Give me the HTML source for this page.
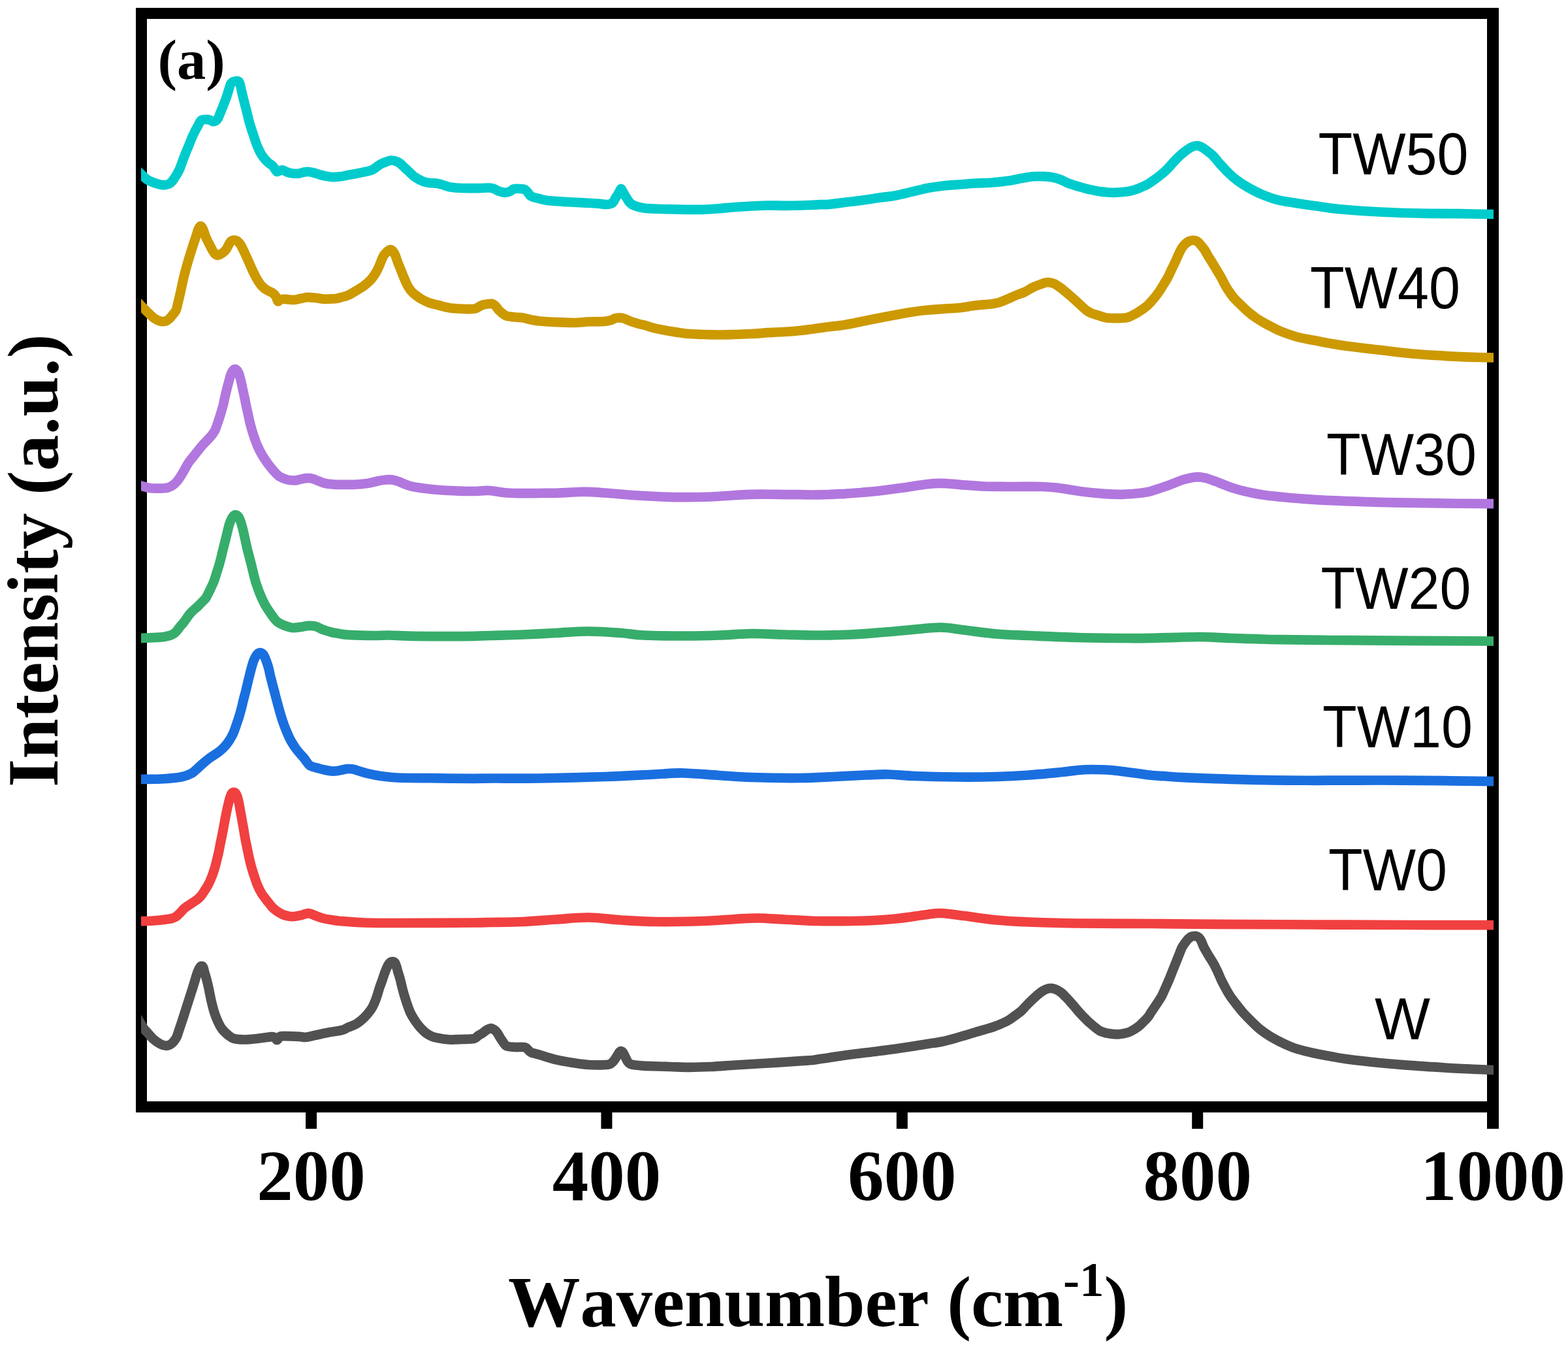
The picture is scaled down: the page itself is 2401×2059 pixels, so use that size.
<!DOCTYPE html>
<html lang="en">
<head>
<meta charset="utf-8">
<title>Raman spectra</title>
<style>
html,body{margin:0;padding:0;background:#fff;}
body{width:2401px;height:2059px;overflow:hidden;}
svg{display:block;}
.serif{font-family:"Liberation Serif","Times New Roman",serif;font-weight:bold;fill:#000;font-kerning:none;}
.sans{font-family:"Liberation Sans",Arial,sans-serif;fill:#000;font-kerning:none;}
.curve{fill:none;stroke-width:14.7;stroke-linejoin:round;stroke-linecap:butt;}
</style>
</head>
<body>
<svg width="2401" height="2059" viewBox="0 0 2401 2059" role="img" aria-label="Raman spectra of W, TW0, TW10, TW20, TW30, TW40 and TW50">
<rect x="0" y="0" width="2401" height="2059" fill="#fff"/>
<g id="axes" fill="#000">
<rect x="208" y="12" width="17" height="1691"/>
<rect x="2277" y="12" width="18" height="1716"/>
<rect x="208" y="12" width="2087" height="17"/>
<rect x="208" y="1686" width="2087" height="17"/>
<rect x="468.0" y="1700" width="17" height="28"/>
<rect x="920.4" y="1700" width="17" height="28"/>
<rect x="1372.8" y="1700" width="17" height="28"/>
<rect x="1825.2" y="1700" width="17" height="28"/>
</g>
<svg id="curves" x="216" y="0" width="2071" height="1720" viewBox="216 0 2071 1720" overflow="hidden">
<path class="curve" stroke="#515151" d="M204.2 1548.2C206.2 1551.5 213.5 1563.5 216.2 1568.0C219.0 1572.5 219.0 1572.9 220.5 1575.0C222.0 1577.1 223.0 1577.8 225.5 1580.5C228.0 1583.2 232.2 1588.3 235.5 1591.2C238.8 1594.2 242.4 1596.7 245.5 1598.2C248.6 1599.8 251.8 1600.6 254.2 1600.8C256.8 1600.9 258.6 1600.2 260.5 1599.2C262.4 1598.3 263.8 1597.0 265.5 1595.0C267.2 1593.0 269.0 1590.8 270.5 1587.5C272.0 1584.2 273.3 1579.2 274.8 1575.0C276.2 1570.8 277.6 1566.7 279.0 1562.5C280.4 1558.3 281.7 1554.2 283.0 1550.0C284.3 1545.8 285.7 1541.7 287.0 1537.5C288.3 1533.3 289.7 1529.2 291.0 1525.0C292.3 1520.8 293.7 1516.7 295.0 1512.5C296.3 1508.3 297.5 1504.2 298.8 1500.0C300.0 1495.8 301.5 1490.7 302.8 1487.5C304.0 1484.3 305.0 1482.5 306.0 1481.0C307.0 1479.5 308.0 1478.8 308.9 1478.8C309.8 1478.8 310.5 1479.2 311.2 1481.0C312.0 1482.8 312.6 1486.3 313.5 1489.5C314.4 1492.7 315.5 1496.2 316.5 1500.0C317.5 1503.8 318.6 1508.3 319.5 1512.5C320.4 1516.7 321.1 1520.8 322.0 1525.0C322.9 1529.2 323.7 1533.3 324.8 1537.5C325.8 1541.7 326.9 1545.8 328.2 1550.0C329.6 1554.2 331.1 1558.3 333.0 1562.5C334.9 1566.7 337.0 1571.3 339.8 1575.0C342.5 1578.7 346.2 1582.0 349.2 1584.5C352.3 1587.0 353.6 1588.6 358.0 1589.8C362.4 1590.9 369.2 1591.5 375.5 1591.5C381.8 1591.5 388.8 1590.5 395.5 1589.8C402.2 1589.0 411.3 1587.5 415.5 1587.2C419.7 1587.0 419.0 1587.2 420.5 1588.0C422.0 1588.8 423.0 1592.1 424.2 1592.0C425.5 1591.9 426.5 1588.5 428.0 1587.5C429.5 1586.5 428.0 1586.4 433.0 1586.2C438.0 1586.1 452.2 1586.5 458.0 1586.8C463.8 1587.0 463.8 1588.1 468.0 1587.8C472.2 1587.4 477.2 1586.0 483.0 1584.8C488.8 1583.5 496.3 1581.8 503.0 1580.5C509.7 1579.2 518.0 1578.5 523.0 1577.2C528.0 1576.0 529.2 1574.4 533.0 1572.8C536.8 1571.1 541.3 1570.0 545.5 1567.5C549.7 1565.0 554.2 1561.2 558.0 1557.5C561.8 1553.8 565.5 1549.0 568.0 1545.5C570.5 1542.0 571.5 1539.7 573.0 1536.2C574.5 1532.8 575.9 1529.0 577.2 1525.0C578.6 1521.0 579.6 1516.7 581.0 1512.5C582.4 1508.3 584.0 1504.2 585.5 1500.0C587.0 1495.8 588.3 1491.2 589.8 1487.5C591.2 1483.8 592.9 1479.9 594.2 1477.5C595.6 1475.1 596.8 1473.9 598.0 1473.0C599.2 1472.1 600.1 1471.9 601.2 1472.0C602.4 1472.1 603.8 1472.4 604.8 1473.8C605.8 1475.1 606.5 1477.7 607.2 1480.0C608.0 1482.3 608.3 1484.2 609.2 1487.5C610.2 1490.8 611.9 1495.8 613.0 1500.0C614.1 1504.2 614.9 1508.3 616.0 1512.5C617.1 1516.7 618.2 1520.8 619.5 1525.0C620.8 1529.2 622.0 1533.3 623.5 1537.5C625.0 1541.7 626.2 1545.8 628.2 1550.0C630.2 1554.2 632.8 1558.5 635.5 1562.5C638.2 1566.5 641.5 1570.7 644.2 1573.8C647.0 1576.8 649.0 1578.9 651.8 1581.0C654.5 1583.1 657.4 1584.9 660.5 1586.2C663.6 1587.6 665.9 1588.1 670.5 1589.0C675.1 1589.9 681.8 1591.2 688.0 1591.5C694.2 1591.8 701.7 1591.3 708.0 1591.0C714.3 1590.7 722.0 1590.7 726.0 1589.8C730.0 1588.8 730.2 1586.8 732.2 1585.5C734.3 1584.2 736.4 1583.2 738.5 1581.8C740.6 1580.3 742.7 1578.2 744.8 1577.0C746.8 1575.8 749.1 1574.5 751.0 1574.2C752.9 1574.0 754.3 1574.7 756.0 1575.8C757.7 1576.8 759.3 1578.3 761.0 1580.5C762.7 1582.7 764.3 1586.1 766.0 1588.8C767.7 1591.4 769.3 1594.1 771.0 1596.2C772.7 1598.4 773.1 1600.4 776.0 1601.5C778.9 1602.6 783.9 1602.7 788.5 1603.0C793.1 1603.3 800.2 1602.6 803.5 1603.2C806.8 1603.9 806.8 1605.7 808.5 1607.0C810.2 1608.3 810.6 1610.0 813.5 1611.2C816.4 1612.5 819.8 1612.9 826.0 1614.8C832.2 1616.6 842.7 1620.2 851.0 1622.2C859.3 1624.2 867.7 1625.5 876.0 1626.8C884.3 1628.0 892.7 1629.4 901.0 1630.0C909.3 1630.6 920.5 1630.4 926.0 1630.2C931.5 1630.1 931.7 1630.0 934.0 1629.0C936.3 1628.0 937.9 1626.1 939.8 1624.0C941.6 1621.9 943.5 1618.5 945.0 1616.2C946.5 1614.0 947.5 1611.9 948.5 1610.8C949.5 1609.6 950.3 1609.1 951.2 1609.2C952.2 1609.4 953.2 1610.0 954.2 1611.5C955.3 1613.0 956.4 1615.8 957.5 1618.0C958.6 1620.2 959.6 1623.1 961.0 1625.0C962.4 1626.9 963.5 1628.3 966.0 1629.2C968.5 1630.2 972.2 1630.3 976.0 1630.8C979.8 1631.2 980.2 1631.4 988.5 1631.8C996.8 1632.1 1014.8 1632.7 1026.0 1633.0C1037.2 1633.3 1045.6 1633.8 1056.0 1633.8C1066.4 1633.8 1076.8 1633.5 1088.5 1633.0C1100.2 1632.5 1111.4 1631.4 1126.0 1630.5C1140.6 1629.6 1159.3 1628.5 1176.0 1627.5C1192.7 1626.5 1214.7 1625.0 1226.0 1624.2C1237.3 1623.5 1238.9 1623.5 1244.0 1623.0C1249.1 1622.5 1252.3 1621.6 1256.5 1621.0C1260.7 1620.4 1262.8 1620.2 1269.0 1619.2C1275.2 1618.3 1285.7 1616.7 1294.0 1615.5C1302.3 1614.3 1310.7 1613.3 1319.0 1612.2C1327.3 1611.2 1335.7 1610.3 1344.0 1609.2C1352.3 1608.2 1360.7 1607.2 1369.0 1606.0C1377.3 1604.8 1385.7 1603.5 1394.0 1602.2C1402.3 1601.0 1410.7 1599.6 1419.0 1598.2C1427.3 1596.9 1435.7 1596.0 1444.0 1594.2C1452.3 1592.5 1460.7 1589.9 1469.0 1587.5C1477.3 1585.1 1485.7 1582.5 1494.0 1580.0C1502.3 1577.5 1512.8 1574.8 1519.0 1572.8C1525.2 1570.8 1527.3 1569.8 1531.5 1568.0C1535.7 1566.2 1540.2 1564.2 1544.0 1562.0C1547.8 1559.8 1550.7 1557.4 1554.0 1555.0C1557.3 1552.6 1561.1 1550.1 1564.0 1547.5C1566.9 1544.9 1569.0 1542.1 1571.5 1539.5C1574.0 1536.9 1576.5 1534.4 1579.0 1532.0C1581.5 1529.6 1584.0 1527.2 1586.5 1525.0C1589.0 1522.8 1591.5 1520.5 1594.0 1518.8C1596.5 1517.0 1599.0 1515.5 1601.5 1514.5C1604.0 1513.5 1606.5 1512.8 1609.0 1512.8C1611.5 1512.8 1614.0 1513.5 1616.5 1514.5C1619.0 1515.5 1621.5 1516.9 1624.0 1518.8C1626.5 1520.6 1629.0 1523.2 1631.5 1525.8C1634.0 1528.2 1636.5 1531.0 1639.0 1533.8C1641.5 1536.5 1644.0 1539.6 1646.5 1542.5C1649.0 1545.4 1651.5 1548.5 1654.0 1551.2C1656.5 1554.0 1659.0 1556.5 1661.5 1559.0C1664.0 1561.5 1666.5 1564.0 1669.0 1566.2C1671.5 1568.5 1674.0 1570.5 1676.5 1572.5C1679.0 1574.5 1681.5 1576.6 1684.0 1578.0C1686.5 1579.4 1689.0 1580.0 1691.5 1580.8C1694.0 1581.5 1696.5 1581.8 1699.0 1582.2C1701.5 1582.7 1704.0 1583.1 1706.5 1583.2C1709.0 1583.4 1711.5 1583.5 1714.0 1583.2C1716.5 1583.0 1719.0 1582.5 1721.5 1582.0C1724.0 1581.5 1726.5 1581.0 1729.0 1580.0C1731.5 1579.0 1734.0 1577.5 1736.5 1576.0C1739.0 1574.5 1741.9 1572.4 1744.0 1570.8C1746.1 1569.1 1747.3 1567.8 1749.0 1566.2C1750.7 1564.7 1752.3 1563.0 1754.0 1561.2C1755.7 1559.5 1757.7 1557.3 1759.0 1555.5C1760.3 1553.7 1760.0 1553.5 1762.0 1550.5C1764.0 1547.5 1768.0 1541.8 1770.8 1537.5C1773.5 1533.2 1776.5 1529.2 1778.8 1525.0C1781.0 1520.8 1782.6 1516.7 1784.5 1512.5C1786.4 1508.3 1788.2 1504.2 1790.0 1500.0C1791.8 1495.8 1793.3 1491.7 1795.0 1487.5C1796.7 1483.3 1798.3 1479.2 1800.0 1475.0C1801.7 1470.8 1803.3 1466.7 1805.0 1462.5C1806.7 1458.3 1808.2 1453.8 1810.2 1450.0C1812.3 1446.2 1815.5 1442.0 1817.5 1439.5C1819.5 1437.0 1821.0 1435.8 1822.5 1434.8C1824.0 1433.7 1824.9 1433.5 1826.5 1433.2C1828.1 1433.0 1830.4 1432.7 1832.0 1433.1C1833.6 1433.5 1834.8 1434.2 1836.0 1435.5C1837.2 1436.8 1838.3 1438.3 1839.5 1440.8C1840.7 1443.2 1841.6 1446.4 1843.4 1450.0C1845.2 1453.6 1848.0 1458.3 1850.5 1462.5C1853.0 1466.7 1855.9 1470.8 1858.2 1475.0C1860.6 1479.2 1862.5 1483.3 1864.5 1487.5C1866.5 1491.7 1868.0 1495.8 1870.0 1500.0C1872.0 1504.2 1874.2 1508.3 1876.5 1512.5C1878.8 1516.7 1881.0 1520.8 1883.8 1525.0C1886.5 1529.2 1890.0 1533.3 1893.2 1537.5C1896.5 1541.7 1899.5 1545.8 1903.2 1550.0C1907.0 1554.2 1911.4 1558.7 1915.8 1563.0C1920.1 1567.3 1924.7 1571.9 1929.5 1575.8C1934.3 1579.6 1939.1 1582.9 1944.5 1586.2C1949.9 1589.6 1957.0 1593.2 1962.0 1595.8C1967.0 1598.3 1970.3 1599.8 1974.5 1601.5C1978.7 1603.2 1980.8 1604.2 1987.0 1606.0C1993.2 1607.8 2003.7 1610.4 2012.0 1612.2C2020.3 1614.1 2028.7 1615.5 2037.0 1617.0C2045.3 1618.5 2049.5 1619.6 2062.0 1621.2C2074.5 1622.9 2095.3 1625.3 2112.0 1627.0C2128.7 1628.7 2145.3 1630.0 2162.0 1631.2C2178.7 1632.5 2195.3 1633.5 2212.0 1634.5C2228.7 1635.5 2249.6 1636.4 2262.0 1637.0C2274.4 1637.6 2280.4 1637.8 2286.5 1638.0C2292.6 1638.2 2296.5 1638.4 2298.5 1638.5"/>
<path class="curve" stroke="#F14040" d="M204.2 1410.8C206.2 1410.7 210.6 1410.5 216.2 1410.2C221.9 1410.0 231.0 1409.8 238.0 1409.2C245.0 1408.7 253.4 1407.7 258.0 1407.0C262.6 1406.3 263.4 1405.8 265.5 1405.0C267.6 1404.2 268.6 1403.9 270.5 1402.5C272.4 1401.1 274.7 1398.6 276.8 1396.5C278.8 1394.4 279.9 1392.5 283.0 1390.0C286.1 1387.5 292.2 1383.8 295.5 1381.5C298.8 1379.2 300.9 1378.0 303.0 1376.2C305.1 1374.5 306.3 1373.3 308.0 1371.2C309.7 1369.2 311.2 1366.5 313.0 1363.8C314.8 1361.0 316.6 1358.5 318.5 1355.0C320.4 1351.5 322.6 1346.7 324.2 1342.5C325.9 1338.3 327.2 1334.2 328.5 1330.0C329.8 1325.8 330.7 1321.7 331.8 1317.5C332.8 1313.3 333.8 1309.2 334.8 1305.0C335.7 1300.8 336.4 1296.7 337.2 1292.5C338.1 1288.3 338.9 1284.2 339.8 1280.0C340.6 1275.8 341.5 1271.7 342.2 1267.5C343.0 1263.3 343.7 1259.2 344.5 1255.0C345.3 1250.8 346.1 1246.7 347.0 1242.5C347.9 1238.3 348.8 1233.8 349.8 1230.0C350.7 1226.2 351.6 1222.6 352.5 1220.0C353.4 1217.4 354.1 1215.7 355.0 1214.5C355.9 1213.3 357.0 1212.8 358.0 1212.8C359.0 1212.8 360.1 1213.3 361.0 1214.5C361.9 1215.7 362.7 1217.4 363.5 1220.0C364.3 1222.6 365.2 1226.2 366.0 1230.0C366.8 1233.8 367.5 1238.3 368.2 1242.5C369.0 1246.7 369.8 1250.8 370.5 1255.0C371.2 1259.2 372.0 1263.3 372.8 1267.5C373.5 1271.7 374.0 1275.8 374.8 1280.0C375.5 1284.2 376.4 1288.3 377.2 1292.5C378.1 1296.7 378.9 1300.8 379.8 1305.0C380.6 1309.2 381.5 1313.3 382.5 1317.5C383.5 1321.7 384.5 1325.8 385.8 1330.0C387.0 1334.2 388.3 1338.3 389.8 1342.5C391.2 1346.7 392.5 1350.8 394.2 1355.0C396.0 1359.2 397.9 1363.3 400.5 1367.5C403.1 1371.7 407.0 1376.5 409.8 1380.0C412.5 1383.5 414.5 1386.3 416.8 1388.8C419.0 1391.2 420.8 1392.6 423.5 1394.5C426.2 1396.4 429.8 1398.6 433.0 1400.0C436.2 1401.4 440.1 1402.2 443.0 1402.8C445.9 1403.2 447.6 1403.2 450.5 1403.0C453.4 1402.8 457.8 1401.9 460.5 1401.2C463.2 1400.6 464.9 1399.8 466.8 1399.2C468.6 1398.8 470.1 1398.2 471.8 1398.2C473.4 1398.2 474.9 1398.7 476.8 1399.2C478.6 1399.8 479.9 1400.6 483.0 1401.8C486.1 1402.9 491.3 1404.9 495.5 1406.0C499.7 1407.1 503.8 1407.6 508.0 1408.2C512.2 1408.9 512.2 1409.3 520.5 1410.0C528.8 1410.7 543.4 1412.0 558.0 1412.5C572.6 1413.0 580.0 1413.0 608.0 1413.0C636.0 1413.0 702.2 1412.7 726.0 1412.5C749.8 1412.3 738.5 1412.2 751.0 1412.0C763.5 1411.8 784.3 1411.8 801.0 1411.0C817.7 1410.2 834.3 1408.6 851.0 1407.5C867.7 1406.4 884.3 1404.3 901.0 1404.5C917.7 1404.7 933.5 1407.4 951.0 1408.5C968.5 1409.6 985.2 1410.8 1006.0 1411.0C1026.8 1411.2 1056.0 1410.7 1076.0 1410.0C1096.0 1409.3 1111.8 1407.8 1126.0 1407.0C1140.2 1406.2 1148.5 1405.4 1161.0 1405.5C1173.5 1405.6 1186.0 1406.8 1201.0 1407.5C1216.0 1408.2 1230.2 1409.7 1251.0 1410.0C1271.8 1410.3 1305.2 1410.2 1326.0 1409.5C1346.8 1408.8 1361.0 1407.5 1376.0 1406.0C1391.0 1404.5 1405.2 1401.8 1416.0 1400.5C1426.8 1399.2 1431.0 1397.8 1441.0 1398.0C1451.0 1398.2 1461.8 1400.2 1476.0 1402.0C1490.2 1403.8 1509.3 1406.9 1526.0 1408.5C1542.7 1410.1 1555.2 1410.7 1576.0 1411.5C1596.8 1412.3 1620.0 1413.1 1651.0 1413.5C1682.0 1413.9 1726.8 1413.8 1762.0 1414.0C1797.2 1414.2 1820.3 1414.5 1862.0 1414.8C1903.7 1415.0 1962.0 1415.3 2012.0 1415.5C2062.0 1415.7 2116.2 1415.9 2162.0 1416.0C2207.8 1416.1 2263.8 1416.2 2286.5 1416.2C2309.2 1416.3 2296.5 1416.3 2298.5 1416.3"/>
<path class="curve" stroke="#1A6FDF" d="M204.2 1193.2C206.2 1193.2 209.4 1193.1 216.2 1193.0C223.1 1192.9 236.5 1192.9 245.5 1192.5C254.5 1192.1 264.2 1191.2 270.5 1190.5C276.8 1189.8 279.9 1188.8 283.0 1188.0C286.1 1187.2 287.2 1186.7 289.2 1185.8C291.3 1184.8 293.4 1184.0 295.5 1182.5C297.6 1181.0 299.7 1178.9 301.8 1177.0C303.8 1175.1 304.9 1174.0 308.0 1171.2C311.1 1168.5 316.3 1163.9 320.5 1160.8C324.7 1157.6 329.9 1154.7 333.0 1152.5C336.1 1150.3 337.2 1149.4 339.2 1147.5C341.3 1145.6 343.4 1143.8 345.5 1141.2C347.6 1138.8 349.8 1135.6 351.8 1132.5C353.7 1129.4 355.6 1126.2 357.2 1122.5C358.9 1118.8 360.3 1114.2 361.8 1110.0C363.2 1105.8 364.7 1101.7 366.0 1097.5C367.3 1093.3 368.4 1089.2 369.5 1085.0C370.6 1080.8 371.5 1076.7 372.5 1072.5C373.5 1068.3 374.7 1064.2 375.8 1060.0C376.8 1055.8 377.8 1051.7 378.8 1047.5C379.8 1043.3 380.7 1039.2 381.8 1035.0C382.8 1030.8 383.9 1026.5 385.0 1022.5C386.1 1018.5 387.3 1014.4 388.5 1011.2C389.7 1008.1 391.1 1005.6 392.2 1003.8C393.4 1001.9 394.5 1000.8 395.5 1000.0C396.5 999.2 397.5 998.9 398.5 999.0C399.5 999.1 400.7 999.6 401.8 1000.5C402.8 1001.4 403.8 1002.7 404.8 1004.5C405.7 1006.3 406.4 1008.2 407.5 1011.2C408.6 1014.2 410.2 1018.5 411.2 1022.5C412.3 1026.5 413.0 1030.8 414.0 1035.0C415.0 1039.2 416.2 1043.3 417.2 1047.5C418.3 1051.7 419.4 1055.8 420.5 1060.0C421.6 1064.2 422.6 1068.3 423.8 1072.5C424.9 1076.7 426.1 1080.8 427.2 1085.0C428.4 1089.2 429.5 1093.3 430.8 1097.5C432.0 1101.7 433.5 1105.8 435.0 1110.0C436.5 1114.2 438.2 1118.3 440.0 1122.5C441.8 1126.7 443.6 1130.8 446.0 1135.0C448.4 1139.2 451.1 1143.3 454.2 1147.5C457.4 1151.7 462.3 1156.7 465.0 1160.0C467.7 1163.3 468.8 1165.4 470.5 1167.5C472.2 1169.6 472.6 1171.0 475.5 1172.5C478.4 1174.0 484.2 1175.2 488.0 1176.2C491.8 1177.3 494.7 1178.0 498.0 1178.8C501.3 1179.5 505.1 1180.2 508.0 1180.5C510.9 1180.8 513.0 1180.5 515.5 1180.2C518.0 1180.0 520.5 1179.2 523.0 1178.8C525.5 1178.2 528.4 1177.5 530.5 1177.2C532.6 1177.0 533.6 1176.9 535.5 1177.0C537.4 1177.1 539.7 1177.3 541.8 1177.8C543.8 1178.2 544.5 1178.7 548.0 1179.8C551.5 1180.8 557.2 1182.9 563.0 1184.2C568.8 1185.6 575.5 1187.0 583.0 1188.0C590.5 1189.0 595.5 1190.0 608.0 1190.5C620.5 1191.0 638.3 1191.0 658.0 1191.2C677.7 1191.5 709.7 1191.7 726.0 1191.8C742.3 1191.8 739.3 1191.5 756.0 1191.5C772.7 1191.5 797.7 1191.9 826.0 1191.5C854.3 1191.1 896.8 1190.0 926.0 1189.0C955.2 1188.0 981.0 1186.4 1001.0 1185.5C1021.0 1184.6 1029.3 1183.2 1046.0 1183.5C1062.7 1183.8 1083.5 1185.9 1101.0 1187.0C1118.5 1188.1 1130.2 1189.3 1151.0 1190.0C1171.8 1190.7 1205.2 1191.2 1226.0 1191.0C1246.8 1190.8 1259.3 1189.8 1276.0 1189.0C1292.7 1188.2 1311.8 1187.1 1326.0 1186.5C1340.2 1185.9 1348.5 1185.2 1361.0 1185.5C1373.5 1185.8 1383.5 1187.3 1401.0 1188.0C1418.5 1188.7 1445.2 1189.3 1466.0 1189.5C1486.8 1189.7 1507.7 1189.5 1526.0 1189.0C1544.3 1188.5 1559.3 1187.7 1576.0 1186.5C1592.7 1185.3 1613.5 1183.2 1626.0 1182.0C1638.5 1180.8 1643.5 1179.7 1651.0 1179.0C1658.5 1178.3 1662.7 1178.0 1671.0 1178.0C1679.3 1178.0 1691.8 1178.3 1701.0 1179.0C1710.2 1179.7 1718.5 1181.1 1726.0 1182.0C1733.5 1182.9 1740.0 1183.7 1746.0 1184.5C1752.0 1185.3 1755.2 1186.1 1762.0 1186.8C1768.8 1187.4 1778.7 1187.9 1787.0 1188.5C1795.3 1189.1 1799.5 1189.6 1812.0 1190.2C1824.5 1190.9 1841.2 1191.6 1862.0 1192.2C1882.8 1192.9 1912.0 1193.8 1937.0 1194.2C1962.0 1194.7 1982.8 1194.7 2012.0 1194.8C2041.2 1194.8 2078.7 1194.4 2112.0 1194.5C2145.3 1194.6 2182.9 1195.0 2212.0 1195.2C2241.1 1195.5 2272.1 1196.1 2286.5 1196.2C2300.9 1196.4 2296.5 1196.4 2298.5 1196.4"/>
<path class="curve" stroke="#37AD6B" d="M204.2 977.1C206.2 977.0 211.5 976.9 216.2 976.8C221.0 976.6 227.3 976.5 233.0 976.2C238.7 976.0 245.5 975.8 250.5 975.0C255.5 974.2 259.9 973.0 263.0 971.8C266.1 970.5 267.2 969.5 269.2 967.5C271.3 965.5 273.5 962.0 275.5 959.5C277.5 957.0 279.0 955.8 281.5 952.5C284.0 949.2 287.8 943.3 290.5 940.0C293.2 936.7 295.7 934.7 298.0 932.5C300.3 930.3 302.2 929.0 304.2 927.0C306.3 925.0 308.6 922.5 310.5 920.5C312.4 918.5 313.6 918.0 315.5 915.0C317.4 912.0 319.8 906.7 321.8 902.5C323.8 898.3 325.9 894.2 327.5 890.0C329.1 885.8 330.2 881.7 331.5 877.5C332.8 873.3 334.3 869.2 335.5 865.0C336.7 860.8 337.7 856.7 338.8 852.5C339.8 848.3 340.7 844.2 341.8 840.0C342.8 835.8 344.0 831.7 345.0 827.5C346.0 823.3 347.0 819.2 348.0 815.0C349.0 810.8 350.1 806.0 351.2 802.5C352.4 799.0 353.6 796.0 354.8 793.8C355.9 791.5 357.0 790.2 358.0 789.2C359.0 788.3 360.0 788.1 361.0 788.2C362.0 788.4 363.2 789.0 364.2 790.0C365.2 791.0 366.1 792.4 367.0 794.5C367.9 796.6 368.8 799.1 369.8 802.5C370.8 805.9 372.0 810.8 373.0 815.0C374.0 819.2 374.8 823.3 375.8 827.5C376.7 831.7 377.5 835.8 378.5 840.0C379.5 844.2 380.7 848.3 381.8 852.5C382.8 856.7 384.0 860.8 385.0 865.0C386.0 869.2 387.0 873.3 388.0 877.5C389.0 881.7 390.0 885.8 391.2 890.0C392.5 894.2 394.0 898.3 395.5 902.5C397.0 906.7 398.6 910.8 400.5 915.0C402.4 919.2 404.3 923.3 406.8 927.5C409.2 931.7 412.7 936.7 415.0 940.0C417.3 943.3 418.8 945.4 420.5 947.5C422.2 949.6 423.4 951.0 425.5 952.5C427.6 954.0 430.5 955.4 433.0 956.5C435.5 957.6 438.0 958.5 440.5 959.2C443.0 960.0 445.5 960.8 448.0 961.0C450.5 961.2 453.0 960.8 455.5 960.5C458.0 960.2 460.7 959.9 463.0 959.5C465.3 959.1 467.2 958.5 469.2 958.2C471.3 958.0 473.4 957.7 475.5 957.8C477.6 957.8 479.9 958.1 481.8 958.5C483.6 958.9 484.5 959.3 486.8 960.2C489.0 961.2 492.0 963.0 495.5 964.2C499.0 965.5 503.8 967.0 508.0 968.0C512.2 969.0 516.3 969.6 520.5 970.2C524.7 970.9 524.7 971.3 533.0 971.8C541.3 972.2 560.1 972.9 570.5 973.0C580.9 973.1 585.1 972.4 595.5 972.5C605.9 972.6 618.4 973.5 633.0 973.8C647.6 974.0 667.5 974.2 683.0 974.2C698.5 974.2 714.7 974.0 726.0 973.8C737.3 973.5 738.5 973.4 751.0 973.0C763.5 972.6 784.3 972.2 801.0 971.5C817.7 970.8 834.3 969.8 851.0 969.0C867.7 968.2 884.3 966.5 901.0 966.5C917.7 966.5 936.8 968.0 951.0 969.0C965.2 970.0 969.3 971.8 986.0 972.5C1002.7 973.2 1031.8 973.5 1051.0 973.5C1070.2 973.5 1084.3 973.1 1101.0 972.5C1117.7 971.9 1134.3 970.2 1151.0 970.0C1167.7 969.8 1184.3 971.1 1201.0 971.5C1217.7 971.9 1234.3 972.5 1251.0 972.5C1267.7 972.5 1284.3 972.2 1301.0 971.5C1317.7 970.8 1334.3 969.3 1351.0 968.0C1367.7 966.7 1386.0 964.8 1401.0 963.5C1416.0 962.2 1428.5 960.3 1441.0 960.5C1453.5 960.7 1461.8 962.8 1476.0 964.5C1490.2 966.2 1509.3 969.1 1526.0 970.5C1542.7 971.9 1555.2 972.1 1576.0 973.0C1596.8 973.9 1626.0 975.3 1651.0 976.0C1676.0 976.7 1707.5 976.9 1726.0 977.0C1744.5 977.1 1749.8 977.0 1762.0 976.8C1774.2 976.5 1787.0 976.0 1799.5 975.8C1812.0 975.5 1826.6 975.0 1837.0 975.0C1847.4 975.0 1853.7 975.4 1862.0 975.8C1870.3 976.1 1876.6 976.6 1887.0 977.0C1897.4 977.4 1912.0 977.9 1924.5 978.2C1937.0 978.6 1939.1 978.9 1962.0 979.2C1984.9 979.6 2028.7 980.0 2062.0 980.2C2095.3 980.5 2124.6 980.5 2162.0 980.8C2199.4 981.0 2263.8 981.4 2286.5 981.5C2309.2 981.6 2296.5 981.6 2298.5 981.6"/>
<path class="curve" stroke="#B177DE" d="M204.2 740.5C206.2 741.0 212.7 742.8 216.2 743.8C219.8 744.7 222.7 745.6 225.5 746.2C228.3 746.9 228.8 747.3 233.0 747.5C237.2 747.7 246.3 747.7 250.5 747.5C254.7 747.3 255.7 747.0 258.0 746.2C260.3 745.5 262.2 744.7 264.2 743.2C266.3 741.8 268.4 739.9 270.5 737.5C272.6 735.1 274.8 731.7 276.8 728.8C278.7 725.8 279.9 723.5 282.0 720.0C284.1 716.5 286.4 711.7 289.2 707.5C292.1 703.3 295.9 699.2 299.2 695.0C302.6 690.8 305.6 686.7 309.2 682.5C312.9 678.3 318.2 673.1 321.0 670.0C323.8 666.9 324.5 665.8 326.0 663.8C327.5 661.7 328.4 660.6 329.8 657.5C331.1 654.4 332.8 649.2 334.2 645.0C335.7 640.8 337.0 636.7 338.2 632.5C339.5 628.3 340.7 624.2 341.8 620.0C342.8 615.8 343.5 611.7 344.5 607.5C345.5 603.3 346.5 599.2 347.5 595.0C348.5 590.8 349.7 586.2 350.8 582.5C351.8 578.8 352.8 575.1 353.8 572.5C354.8 569.9 355.7 568.2 356.8 567.0C357.8 565.8 358.9 564.9 360.0 565.0C361.1 565.1 362.5 566.2 363.5 567.5C364.5 568.8 365.1 570.0 366.0 572.5C366.9 575.0 367.8 578.8 368.8 582.5C369.7 586.2 370.6 590.8 371.5 595.0C372.4 599.2 373.4 603.3 374.2 607.5C375.1 611.7 375.9 615.8 376.8 620.0C377.6 624.2 378.6 628.3 379.5 632.5C380.4 636.7 381.2 640.8 382.2 645.0C383.2 649.2 384.3 653.3 385.5 657.5C386.7 661.7 388.0 665.8 389.5 670.0C391.0 674.2 392.4 678.3 394.2 682.5C396.1 686.7 398.1 690.8 400.5 695.0C402.9 699.2 406.2 704.2 408.5 707.5C410.8 710.8 412.2 712.5 414.2 715.0C416.2 717.5 418.2 720.1 420.5 722.5C422.8 724.9 424.7 727.5 428.0 729.5C431.3 731.5 436.8 733.5 440.5 734.5C444.2 735.5 447.6 735.5 450.5 735.5C453.4 735.5 455.5 734.8 458.0 734.2C460.5 733.8 463.0 732.9 465.5 732.5C468.0 732.1 470.7 731.7 473.0 731.8C475.3 731.8 477.2 732.4 479.2 733.0C481.3 733.6 482.4 734.3 485.5 735.5C488.6 736.7 493.0 739.0 498.0 740.0C503.0 741.0 508.4 741.5 515.5 741.8C522.6 742.0 532.6 742.0 540.5 741.8C548.4 741.5 556.8 740.9 563.0 740.0C569.2 739.1 573.8 737.4 578.0 736.5C582.2 735.6 585.1 735.1 588.0 734.8C590.9 734.4 593.0 734.2 595.5 734.2C598.0 734.3 600.5 734.5 603.0 735.0C605.5 735.5 606.3 735.8 610.5 737.2C614.7 738.8 621.8 742.3 628.0 744.0C634.2 745.7 639.7 746.4 648.0 747.5C656.3 748.6 668.0 749.8 678.0 750.5C688.0 751.2 700.0 751.5 708.0 751.8C716.0 752.0 721.3 752.0 726.0 752.0C730.7 752.0 732.2 751.7 736.0 751.5C739.8 751.3 744.3 750.8 748.5 751.0C752.7 751.2 756.4 751.9 761.0 752.5C765.6 753.1 769.3 754.0 776.0 754.5C782.7 755.0 792.7 755.2 801.0 755.2C809.3 755.3 817.7 755.1 826.0 755.0C834.3 754.9 843.5 755.0 851.0 754.8C858.5 754.5 864.8 754.0 871.0 753.8C877.2 753.5 882.7 753.1 888.5 753.0C894.3 752.9 899.8 753.0 906.0 753.2C912.2 753.5 918.5 754.0 926.0 754.5C933.5 755.0 942.7 755.8 951.0 756.5C959.3 757.2 965.6 757.8 976.0 758.5C986.4 759.2 1001.0 760.0 1013.5 760.5C1026.0 761.0 1038.5 761.2 1051.0 761.2C1063.5 761.2 1076.0 761.0 1088.5 760.5C1101.0 760.0 1115.6 758.6 1126.0 758.0C1136.4 757.4 1140.6 757.0 1151.0 756.8C1161.4 756.5 1176.0 756.7 1188.5 756.8C1201.0 756.8 1216.8 757.1 1226.0 757.2C1235.2 757.4 1236.8 757.5 1244.0 757.5C1251.2 757.5 1260.7 757.3 1269.0 757.0C1277.3 756.7 1285.7 756.2 1294.0 755.8C1302.3 755.2 1310.7 754.7 1319.0 754.0C1327.3 753.3 1333.6 753.0 1344.0 751.8C1354.4 750.5 1369.0 748.5 1381.5 746.8C1394.0 745.0 1409.0 742.4 1419.0 741.2C1429.0 740.1 1433.2 739.7 1441.5 739.8C1449.8 739.8 1458.2 741.0 1469.0 741.8C1479.8 742.5 1494.0 744.0 1506.5 744.5C1519.0 745.0 1529.4 744.9 1544.0 745.0C1558.6 745.1 1581.5 744.7 1594.0 745.0C1606.5 745.3 1608.6 745.5 1619.0 746.8C1629.4 748.0 1644.0 750.9 1656.5 752.5C1669.0 754.1 1683.6 755.5 1694.0 756.2C1704.4 757.0 1710.7 757.0 1719.0 756.8C1727.3 756.5 1737.8 755.6 1744.0 755.0C1750.2 754.4 1753.5 753.8 1756.5 753.2C1759.5 752.8 1759.0 752.9 1762.0 752.0C1765.0 751.1 1770.3 749.4 1774.5 748.0C1778.7 746.6 1782.8 745.2 1787.0 743.8C1791.2 742.2 1795.3 740.6 1799.5 739.0C1803.7 737.4 1807.8 735.5 1812.0 734.2C1816.2 733.0 1820.8 731.9 1824.5 731.2C1828.2 730.6 1831.2 730.2 1834.5 730.2C1837.8 730.3 1842.0 731.1 1844.5 731.5C1847.0 731.9 1846.6 731.8 1849.5 732.8C1852.4 733.7 1857.8 735.7 1862.0 737.2C1866.2 738.8 1870.3 740.7 1874.5 742.2C1878.7 743.8 1882.8 745.4 1887.0 746.8C1891.2 748.1 1894.5 749.2 1899.5 750.5C1904.5 751.8 1910.8 753.2 1917.0 754.5C1923.2 755.8 1929.5 757.0 1937.0 758.0C1944.5 759.0 1953.7 759.9 1962.0 760.8C1970.3 761.6 1974.5 762.1 1987.0 763.0C1999.5 763.9 2016.2 765.3 2037.0 766.2C2057.8 767.2 2087.0 768.1 2112.0 768.8C2137.0 769.4 2157.9 769.8 2187.0 770.2C2216.1 770.7 2267.9 771.1 2286.5 771.2C2305.1 771.4 2296.5 771.4 2298.5 771.4"/>
<path class="curve" stroke="#CC9900" d="M204.2 455.7C206.2 457.7 212.7 464.4 216.2 468.0C219.8 471.6 222.3 474.4 225.5 477.5C228.7 480.6 232.6 484.5 235.5 486.8C238.4 489.0 240.7 489.8 243.0 490.8C245.3 491.7 247.2 492.2 249.2 492.2C251.3 492.2 253.6 491.7 255.5 490.8C257.4 489.8 258.9 488.3 260.5 486.8C262.1 485.2 263.5 483.2 265.0 481.2C266.5 479.3 268.2 478.1 269.5 475.0C270.8 471.9 271.7 466.7 272.8 462.5C273.8 458.3 274.8 454.2 275.8 450.0C276.7 445.8 277.6 441.7 278.5 437.5C279.4 433.3 280.2 429.2 281.2 425.0C282.2 420.8 283.4 416.7 284.5 412.5C285.6 408.3 286.8 404.2 288.0 400.0C289.2 395.8 290.5 391.7 291.8 387.5C293.0 383.3 294.4 379.2 295.8 375.0C297.1 370.8 298.7 366.5 300.0 362.5C301.3 358.5 302.3 354.0 303.5 351.2C304.7 348.5 306.0 346.2 307.2 346.2C308.5 346.2 309.7 348.5 311.0 351.2C312.3 354.0 313.8 359.4 315.0 362.5C316.2 365.6 317.4 367.7 318.5 370.0C319.6 372.3 320.6 374.0 321.8 376.2C322.9 378.5 324.2 381.4 325.5 383.5C326.8 385.6 328.0 387.5 329.2 388.8C330.5 390.0 331.5 390.7 333.0 390.8C334.5 390.8 336.3 389.9 338.0 389.0C339.7 388.1 341.5 386.8 343.0 385.5C344.5 384.2 345.6 383.0 346.8 381.2C347.9 379.5 348.9 377.0 350.0 375.0C351.1 373.0 352.2 370.8 353.5 369.5C354.8 368.2 356.4 367.6 358.0 367.5C359.6 367.4 361.5 367.9 363.0 368.8C364.5 369.6 365.6 371.0 366.8 372.5C367.9 374.0 368.7 375.0 370.0 377.5C371.3 380.0 373.0 383.8 374.8 387.5C376.5 391.2 378.6 395.8 380.5 400.0C382.4 404.2 384.0 408.3 386.0 412.5C388.0 416.7 390.5 421.7 392.2 425.0C394.0 428.3 395.2 430.2 396.8 432.5C398.3 434.8 399.9 436.9 401.8 438.8C403.6 440.6 405.3 442.1 408.0 443.8C410.7 445.4 415.6 447.1 418.0 448.8C420.4 450.4 421.0 451.4 422.2 453.5C423.5 455.6 424.5 460.3 425.5 461.2C426.5 462.2 427.0 459.6 428.5 459.0C430.0 458.4 432.0 457.8 434.2 457.8C436.5 457.7 439.0 458.3 441.8 458.5C444.5 458.7 447.4 459.2 450.5 459.0C453.6 458.8 457.2 457.6 460.5 457.0C463.8 456.4 466.8 455.4 470.5 455.2C474.2 455.1 478.8 455.6 483.0 456.0C487.2 456.4 490.5 457.5 495.5 457.8C500.5 458.0 508.4 457.7 513.0 457.2C517.6 456.8 519.7 455.9 523.0 455.0C526.3 454.1 529.2 453.7 533.0 452.0C536.8 450.3 541.3 447.5 545.5 445.0C549.7 442.5 554.2 439.8 558.0 437.0C561.8 434.2 565.1 431.2 568.0 428.0C570.9 424.8 573.5 420.7 575.5 417.5C577.5 414.3 578.7 411.7 580.0 408.8C581.3 405.8 582.4 402.7 583.5 400.0C584.6 397.3 585.6 394.6 586.8 392.5C587.9 390.4 589.2 389.0 590.5 387.5C591.8 386.0 593.0 384.7 594.2 383.8C595.5 382.8 596.8 381.9 598.0 382.0C599.2 382.1 600.5 383.0 601.8 384.5C603.0 386.0 604.4 388.7 605.5 391.2C606.6 393.8 607.2 396.5 608.5 400.0C609.8 403.5 611.8 408.3 613.5 412.5C615.2 416.7 616.7 420.8 618.5 425.0C620.3 429.2 622.5 434.2 624.2 437.5C626.0 440.8 627.6 442.9 629.2 445.0C630.9 447.1 631.5 447.8 634.2 450.0C637.0 452.2 641.5 455.7 645.5 458.0C649.5 460.3 653.8 462.2 658.0 463.8C662.2 465.2 665.5 465.8 670.5 467.0C675.5 468.2 681.8 470.3 688.0 471.2C694.2 472.2 701.7 472.5 708.0 472.8C714.3 473.0 721.8 473.3 726.0 472.8C730.2 472.2 731.4 470.5 733.5 469.5C735.6 468.5 736.4 467.7 738.5 467.0C740.6 466.3 743.5 465.8 746.0 465.5C748.5 465.2 751.4 464.6 753.5 465.0C755.6 465.4 756.8 466.4 758.5 468.0C760.2 469.6 761.6 472.5 763.5 474.5C765.4 476.5 767.7 478.5 769.8 480.0C771.8 481.5 772.9 482.8 776.0 483.8C779.1 484.7 784.3 485.0 788.5 485.5C792.7 486.0 796.8 485.8 801.0 486.5C805.2 487.2 809.3 488.7 813.5 489.5C817.7 490.3 819.8 490.9 826.0 491.5C832.2 492.1 841.8 492.8 851.0 493.2C860.2 493.7 872.7 494.1 881.0 494.0C889.3 493.9 893.5 492.8 901.0 492.5C908.5 492.2 920.2 492.4 926.0 492.0C931.8 491.6 933.5 490.8 936.0 490.0C938.5 489.2 939.3 488.1 941.0 487.5C942.7 486.9 943.9 486.6 946.0 486.5C948.1 486.4 951.4 486.6 953.5 487.0C955.6 487.4 956.4 487.9 958.5 488.8C960.6 489.6 963.1 490.9 966.0 492.0C968.9 493.1 972.2 494.2 976.0 495.2C979.8 496.3 984.3 497.1 988.5 498.2C992.7 499.4 994.8 500.8 1001.0 502.2C1007.2 503.7 1017.7 505.6 1026.0 507.0C1034.3 508.4 1042.7 509.9 1051.0 510.8C1059.3 511.6 1067.7 511.7 1076.0 512.0C1084.3 512.3 1092.7 512.5 1101.0 512.5C1109.3 512.5 1117.7 512.2 1126.0 512.0C1134.3 511.8 1142.7 511.5 1151.0 511.0C1159.3 510.5 1167.7 509.8 1176.0 509.2C1184.3 508.8 1192.7 508.5 1201.0 508.0C1209.3 507.5 1218.8 506.7 1226.0 506.0C1233.2 505.3 1238.9 504.4 1244.0 503.8C1249.1 503.1 1252.3 502.6 1256.5 502.0C1260.7 501.4 1262.8 501.0 1269.0 500.2C1275.2 499.5 1285.7 498.6 1294.0 497.2C1302.3 495.9 1310.7 493.9 1319.0 492.2C1327.3 490.6 1335.7 488.9 1344.0 487.2C1352.3 485.6 1360.7 484.0 1369.0 482.5C1377.3 481.0 1385.7 479.3 1394.0 478.0C1402.3 476.7 1410.7 475.6 1419.0 474.8C1427.3 473.9 1435.7 473.3 1444.0 472.8C1452.3 472.2 1460.7 472.1 1469.0 471.2C1477.3 470.4 1485.7 468.5 1494.0 467.5C1502.3 466.5 1512.8 466.1 1519.0 465.2C1525.2 464.4 1527.3 463.8 1531.5 462.5C1535.7 461.2 1539.8 459.0 1544.0 457.2C1548.2 455.5 1552.3 453.5 1556.5 451.8C1560.7 450.0 1564.8 449.0 1569.0 447.0C1573.2 445.0 1577.3 442.0 1581.5 440.0C1585.7 438.0 1590.7 436.2 1594.0 435.0C1597.3 433.8 1599.2 432.9 1601.5 432.5C1603.8 432.1 1605.7 432.2 1607.8 432.5C1609.8 432.8 1611.9 433.3 1614.0 434.2C1616.1 435.2 1618.2 436.6 1620.2 438.0C1622.3 439.4 1623.4 440.0 1626.5 442.5C1629.6 445.0 1634.8 449.4 1639.0 453.0C1643.2 456.6 1647.3 460.5 1651.5 464.2C1655.7 468.0 1660.5 472.9 1664.0 475.5C1667.5 478.1 1669.8 478.8 1672.8 480.0C1675.7 481.2 1678.0 481.7 1681.5 482.8C1685.0 483.8 1689.4 485.8 1694.0 486.5C1698.6 487.2 1704.0 487.2 1709.0 487.2C1714.0 487.2 1720.2 487.0 1724.0 486.5C1727.8 486.0 1729.0 485.0 1731.5 484.0C1734.0 483.0 1736.7 481.5 1739.0 480.2C1741.3 479.0 1743.2 477.6 1745.2 476.2C1747.3 474.9 1749.4 473.5 1751.5 472.0C1753.6 470.5 1756.0 468.6 1757.8 467.0C1759.5 465.4 1760.0 464.7 1762.0 462.5C1764.0 460.3 1767.2 456.7 1769.5 453.8C1771.8 450.8 1773.7 448.1 1775.8 445.0C1777.8 441.9 1780.0 438.3 1782.0 435.0C1784.0 431.7 1786.0 428.8 1788.0 425.0C1790.0 421.2 1792.0 416.7 1794.0 412.5C1796.0 408.3 1798.2 403.8 1800.0 400.0C1801.8 396.2 1802.9 393.3 1804.5 390.0C1806.1 386.7 1807.6 382.9 1809.5 380.0C1811.4 377.1 1813.7 374.4 1815.8 372.5C1817.8 370.6 1820.0 369.5 1822.0 368.8C1824.0 368.0 1825.6 367.6 1827.5 367.8C1829.4 367.9 1831.5 368.4 1833.2 369.5C1835.0 370.6 1836.4 372.3 1838.2 374.5C1840.1 376.7 1842.6 379.7 1844.5 382.5C1846.4 385.3 1847.8 388.3 1849.5 391.2C1851.2 394.2 1852.8 396.5 1855.0 400.0C1857.2 403.5 1860.0 408.3 1862.5 412.5C1865.0 416.7 1867.8 421.0 1870.0 425.0C1872.2 429.0 1873.9 432.9 1875.8 436.2C1877.6 439.6 1879.0 441.7 1881.2 445.0C1883.5 448.3 1886.5 452.7 1889.5 456.2C1892.5 459.8 1895.8 462.6 1899.5 466.2C1903.2 469.9 1907.8 474.5 1912.0 478.0C1916.2 481.5 1920.3 484.7 1924.5 487.5C1928.7 490.3 1932.8 492.7 1937.0 495.0C1941.2 497.3 1945.3 499.4 1949.5 501.5C1953.7 503.6 1955.8 505.1 1962.0 507.5C1968.2 509.9 1978.7 513.8 1987.0 516.0C1995.3 518.2 2003.7 519.4 2012.0 521.0C2020.3 522.6 2028.7 524.3 2037.0 525.8C2045.3 527.2 2049.5 528.1 2062.0 529.8C2074.5 531.4 2095.3 533.8 2112.0 535.8C2128.7 537.7 2145.3 540.0 2162.0 541.5C2178.7 543.0 2195.3 543.8 2212.0 544.8C2228.7 545.7 2249.6 546.5 2262.0 547.0C2274.4 547.5 2280.4 547.4 2286.5 547.5C2292.6 547.6 2296.5 547.7 2298.5 547.7"/>
<path class="curve" stroke="#00CBCC" d="M204.2 255.5C206.2 257.3 212.7 263.2 216.2 266.5C219.8 269.8 221.9 272.7 225.5 275.0C229.1 277.3 233.8 279.1 238.0 280.5C242.2 281.9 246.8 283.2 250.5 283.2C254.2 283.2 257.7 282.3 260.5 280.5C263.3 278.7 264.9 275.9 267.2 272.5C269.6 269.1 272.5 264.2 274.5 260.0C276.5 255.8 277.7 251.7 279.2 247.5C280.8 243.3 282.3 239.2 284.0 235.0C285.7 230.8 287.5 226.7 289.2 222.5C291.0 218.3 292.6 213.8 294.2 210.0C295.9 206.2 297.5 203.0 299.0 200.0C300.5 197.0 302.0 194.4 303.5 191.8C305.0 189.1 306.0 185.8 308.0 184.2C310.0 182.8 313.2 182.8 315.5 182.8C317.8 182.7 319.9 183.2 321.8 183.8C323.6 184.3 324.9 186.5 326.8 186.2C328.6 186.0 331.2 184.8 333.0 182.5C334.8 180.2 335.9 176.2 337.5 172.5C339.1 168.8 340.9 164.2 342.5 160.0C344.1 155.8 345.8 151.9 347.2 147.5C348.7 143.1 350.3 137.1 351.4 133.8C352.5 130.4 352.7 129.0 353.8 127.5C354.8 126.0 356.3 125.6 357.8 125.0C359.2 124.4 360.8 123.7 362.2 123.8C363.7 123.8 365.2 124.2 366.2 125.5C367.2 126.8 367.7 129.0 368.2 131.2C368.8 133.5 369.2 136.2 369.8 138.8C370.3 141.2 370.6 142.7 371.5 146.2C372.4 149.8 373.9 155.6 375.0 160.0C376.1 164.4 377.2 168.3 378.2 172.5C379.3 176.7 380.1 180.8 381.2 185.0C382.4 189.2 383.7 193.3 385.0 197.5C386.3 201.7 387.8 205.8 389.2 210.0C390.7 214.2 392.0 218.8 393.5 222.5C395.0 226.2 396.4 229.5 398.0 232.5C399.6 235.5 400.9 237.8 403.0 240.5C405.1 243.2 408.0 246.4 410.5 248.8C413.0 251.1 415.8 252.2 418.0 254.5C420.2 256.8 421.8 261.4 423.5 262.5C425.2 263.6 426.4 261.6 428.0 261.2C429.6 260.9 430.9 260.1 433.0 260.5C435.1 260.9 438.0 262.9 440.5 263.8C443.0 264.6 445.1 265.2 448.0 265.5C450.9 265.8 455.1 265.8 458.0 265.5C460.9 265.2 463.0 263.9 465.5 263.5C468.0 263.1 470.5 262.8 473.0 263.0C475.5 263.2 478.0 263.9 480.5 264.5C483.0 265.1 485.1 265.9 488.0 266.8C490.9 267.6 494.2 268.8 498.0 269.5C501.8 270.2 506.3 271.2 510.5 271.2C514.7 271.3 519.2 270.5 523.0 270.0C526.8 269.5 529.2 268.7 533.0 268.0C536.8 267.3 541.3 266.5 545.5 265.8C549.7 265.0 554.2 264.1 558.0 263.2C561.8 262.4 565.5 261.6 568.0 260.8C570.5 259.9 571.3 259.3 573.0 258.2C574.7 257.2 576.3 255.7 578.0 254.5C579.7 253.3 580.9 252.3 583.0 251.2C585.1 250.2 587.8 249.0 590.5 248.0C593.2 247.0 596.5 245.7 599.2 245.5C602.0 245.3 604.5 246.2 606.8 247.0C609.0 247.8 610.7 248.8 613.0 250.5C615.3 252.2 618.0 255.2 620.5 257.5C623.0 259.8 625.5 262.2 628.0 264.5C630.5 266.8 632.2 269.0 635.5 271.2C638.8 273.5 644.2 276.3 648.0 277.8C651.8 279.2 654.2 279.5 658.0 280.0C661.8 280.5 666.8 280.4 670.5 281.0C674.2 281.6 677.6 282.9 680.5 283.8C683.4 284.6 685.1 285.6 688.0 286.2C690.9 286.9 694.7 287.2 698.0 287.5C701.3 287.8 703.3 287.9 708.0 288.0C712.7 288.1 721.3 288.2 726.0 288.2C730.7 288.2 732.2 288.1 736.0 288.0C739.8 287.9 745.2 287.4 748.5 287.5C751.8 287.6 753.5 287.9 756.0 288.8C758.5 289.6 760.6 291.5 763.5 292.5C766.4 293.5 770.6 294.7 773.5 294.8C776.4 294.8 778.9 293.9 781.0 293.0C783.1 292.1 783.9 290.2 786.0 289.5C788.1 288.8 790.6 288.7 793.5 288.8C796.4 288.8 801.0 289.0 803.5 290.0C806.0 291.0 806.8 293.2 808.5 295.0C810.2 296.8 810.6 299.0 813.5 300.5C816.4 302.0 821.8 303.2 826.0 304.2C830.2 305.3 832.2 306.2 838.5 307.0C844.8 307.8 855.2 308.2 863.5 308.8C871.8 309.3 880.2 309.8 888.5 310.2C896.8 310.7 906.8 311.0 913.5 311.5C920.2 312.0 924.7 313.0 928.5 313.0C932.3 313.0 934.6 312.3 936.5 311.5C938.4 310.7 939.0 309.4 940.0 308.0C941.0 306.6 941.4 305.0 942.3 303.4C943.2 301.8 944.6 300.3 945.6 298.6C946.6 296.9 947.6 294.6 948.5 293.0C949.4 291.4 950.2 288.8 951.0 288.8C951.8 288.8 952.5 291.4 953.5 293.0C954.5 294.6 955.7 296.9 956.7 298.6C957.8 300.3 958.8 301.8 959.8 303.4C960.8 305.0 961.6 306.8 962.8 308.3C964.0 309.8 965.5 311.4 967.0 312.5C968.5 313.6 970.1 314.2 972.0 315.0C973.9 315.8 975.8 316.4 978.5 317.0C981.2 317.6 982.7 318.2 988.5 318.8C994.3 319.2 1003.1 319.7 1013.5 320.0C1023.9 320.3 1040.6 320.6 1051.0 320.8C1061.4 320.9 1067.7 321.0 1076.0 320.8C1084.3 320.5 1092.7 319.9 1101.0 319.2C1109.3 318.6 1117.7 317.6 1126.0 317.0C1134.3 316.4 1142.7 315.9 1151.0 315.5C1159.3 315.1 1167.7 314.6 1176.0 314.5C1184.3 314.4 1192.7 314.8 1201.0 314.8C1209.3 314.8 1218.8 314.7 1226.0 314.5C1233.2 314.3 1238.9 314.0 1244.0 313.8C1249.1 313.5 1252.3 313.4 1256.5 313.2C1260.7 313.1 1262.8 313.3 1269.0 312.8C1275.2 312.2 1285.7 310.8 1294.0 309.8C1302.3 308.8 1310.7 307.9 1319.0 306.8C1327.3 305.6 1335.7 304.2 1344.0 303.0C1352.3 301.8 1360.7 301.2 1369.0 299.8C1377.3 298.3 1385.7 296.2 1394.0 294.2C1402.3 292.3 1410.7 289.9 1419.0 288.2C1427.3 286.6 1435.7 285.5 1444.0 284.5C1452.3 283.5 1460.7 283.2 1469.0 282.5C1477.3 281.8 1485.7 281.0 1494.0 280.5C1502.3 280.0 1510.7 280.1 1519.0 279.5C1527.3 278.9 1536.5 277.8 1544.0 276.8C1551.5 275.7 1557.8 274.1 1564.0 273.0C1570.2 271.9 1575.7 270.7 1581.5 270.2C1587.3 269.8 1594.0 270.0 1599.0 270.2C1604.0 270.5 1607.3 270.7 1611.5 271.5C1615.7 272.3 1620.2 273.6 1624.0 275.0C1627.8 276.4 1630.7 278.4 1634.0 279.8C1637.3 281.1 1640.2 282.0 1644.0 283.2C1647.8 284.5 1652.3 285.8 1656.5 287.0C1660.7 288.2 1664.8 289.3 1669.0 290.2C1673.2 291.2 1677.3 292.1 1681.5 292.8C1685.7 293.4 1689.8 293.9 1694.0 294.2C1698.2 294.6 1702.3 294.8 1706.5 294.8C1710.7 294.7 1714.8 294.4 1719.0 294.0C1723.2 293.6 1727.8 293.0 1731.5 292.2C1735.2 291.5 1738.6 290.3 1741.5 289.2C1744.4 288.2 1746.5 287.1 1749.0 286.0C1751.5 284.9 1754.3 283.7 1756.5 282.5C1758.7 281.3 1759.0 281.1 1762.0 279.0C1765.0 276.9 1770.3 273.3 1774.5 270.0C1778.7 266.7 1782.8 263.3 1787.0 259.2C1791.2 255.2 1795.3 249.8 1799.5 245.5C1803.7 241.2 1807.8 237.1 1812.0 233.8C1816.2 230.4 1821.0 227.0 1824.5 225.2C1828.0 223.5 1830.8 223.0 1833.2 223.0C1835.8 223.0 1837.6 224.2 1839.5 225.0C1841.4 225.8 1841.6 225.8 1844.5 228.0C1847.4 230.2 1852.8 233.9 1857.0 238.0C1861.2 242.1 1865.3 247.9 1869.5 252.5C1873.7 257.1 1877.8 261.5 1882.0 265.5C1886.2 269.5 1889.5 272.6 1894.5 276.2C1899.5 279.9 1905.8 284.0 1912.0 287.5C1918.2 291.0 1924.5 294.4 1932.0 297.5C1939.5 300.6 1948.7 304.1 1957.0 306.2C1965.3 308.4 1972.8 309.0 1982.0 310.5C1991.2 312.0 2000.8 313.4 2012.0 315.0C2023.2 316.6 2037.0 318.7 2049.5 320.0C2062.0 321.3 2072.4 322.1 2087.0 323.0C2101.6 323.9 2120.3 324.9 2137.0 325.5C2153.7 326.1 2170.3 326.5 2187.0 326.8C2203.7 327.0 2220.4 327.0 2237.0 327.2C2253.6 327.5 2276.2 327.8 2286.5 328.0C2296.8 328.2 2296.5 328.2 2298.5 328.2"/>
</svg>
<g class="serif" font-size="111" text-anchor="middle">
<text x="476.5" y="1836.5">200</text>
<text x="928.9" y="1836.5">400</text>
<text x="1381.3" y="1836.5">600</text>
<text x="1833.7" y="1836.5">800</text>
<text x="2286.0" y="1836.5">1000</text>
</g>
<text class="serif" font-size="110.5" x="778" y="2030">Wavenumber (cm<tspan font-size="75" dy="-46">-1</tspan><tspan dy="46">)</tspan></text>
<text class="serif" font-size="111" transform="translate(87.5 1205) rotate(-90)">Intensity (a.u.)</text>
<text class="serif" font-size="86" transform="translate(241.5 121.3) scale(1.03 1)">(a)</text>
<g class="sans" font-size="91">
<text transform="translate(2018.5 266.5) scale(0.947 1)">TW50</text>
<text transform="translate(2006.0 471.5) scale(0.947 1)">TW40</text>
<text transform="translate(2031.0 726.5) scale(0.947 1)">TW30</text>
<text transform="translate(2022.5 931.5) scale(0.947 1)">TW20</text>
<text transform="translate(2025.0 1144.0) scale(0.947 1)">TW10</text>
<text transform="translate(2034.0 1362.5) scale(0.947 1)">TW0</text>
<text transform="translate(2105.0 1590.5) scale(0.990 1)">W</text>
</g>
</svg>
</body>
</html>
